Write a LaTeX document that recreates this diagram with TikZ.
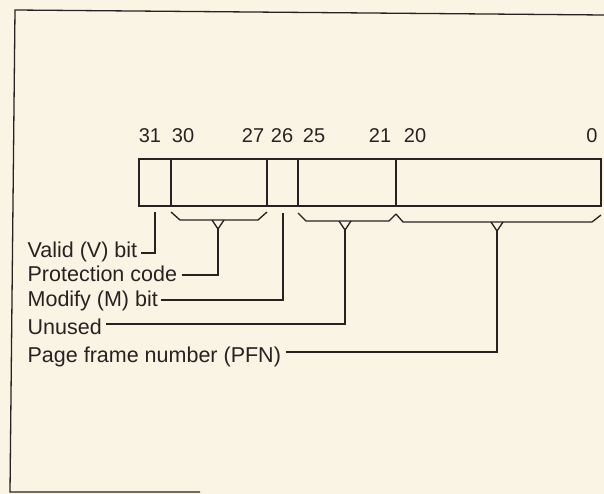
\documentclass[tikz,border=0pt]{standalone}
\usepackage{fontspec}
\setmainfont{Liberation Sans}
\usetikzlibrary{positioning, calc}
\definecolor{ink}{RGB}{38,34,33}
\definecolor{paper}{RGB}{250,244,228}

\begin{document}
\begin{tikzpicture}[x=1pt, y=-1pt, line width=1.3pt, color=ink,
  field/.style={draw, minimum height=47, minimum width=#1, inner sep=0, outer sep=0},
  bitno/.style={anchor=base, inner sep=0, font=\fontsize{20}{24}\selectfont},
  lbl/.style={anchor=base west, inner sep=0, font=\fontsize{21.5}{24}\selectfont}]
\fill[paper] (0,0) rectangle (604,494);
\useasboundingbox (0,0) rectangle (604,494);

% Frame
\draw (604,15) -- (15,10) -- (10,492) -- (200,492);

% Page table entry fields
\node[field=32, anchor=west] (v) at (139,182.5) {};
\node[field=96, right=0pt of v] (p) {};
\node[field=31, right=0pt of p] (m) {};
\node[field=98, right=0pt of m] (u) {};
\node[field=205, right=0pt of u] (f) {};

% Bit numbers
\node[bitno] (b31) at (150,143) {31};
\node[bitno] (b30) at (183,143) {30};
\node[bitno] (b27) at (253,143) {27};
\node[bitno] (b26) at (282,143) {26};
\node[bitno] (b25) at (314,143) {25};
\node[bitno] (b21) at (380,143) {21};
\node[bitno] (b20) at (415,143) {20};
\node[bitno] (b0) at (592,143) {0};

% Braces
\draw[line join=bevel] (171,212) -- (180,220) -- (258,220) -- (267,212);
\draw (212,220) -- (218,229) -- (224,220);
\draw[line join=bevel] (298,213) -- (306,221) -- (389,221) -- (396,214)
  -- (403,222) -- (592,222) -- (601,215);
\draw (339,221) -- (345,230) -- (351,221);
\draw (491,222) -- (497,231) -- (503,222);

\coordinate (vtick) at (155,212);
\coordinate (ptip) at (218,229);
\coordinate (mtick) at (283,213);
\coordinate (utip) at (345,230);
\coordinate (ftip) at (497,231);

% Labels
\node[lbl] (vlab) at (27,257) {Valid (V) bit};
\node[lbl] (plab) at (27,281) {Protection code};
\node[lbl] (mlab) at (27,306) {Modify (M) bit};
\node[lbl] (ulab) at (27,334) {Unused};
\node[lbl] (flab) at (27,362) {Page frame number (PFN)};

\draw ([xshift=3pt, yshift=4pt]vlab.base east) -| (vtick);
\draw ([xshift=4pt, yshift=6pt]plab.base east) -| (ptip);
\draw ([xshift=2pt, yshift=6pt]mlab.base east) -| (mtick);
\draw ([xshift=4pt, yshift=10pt]ulab.base east) -| (utip);
\draw ([xshift=4pt, yshift=10pt]flab.base east) -| (ftip);
\end{tikzpicture}
\end{document}
